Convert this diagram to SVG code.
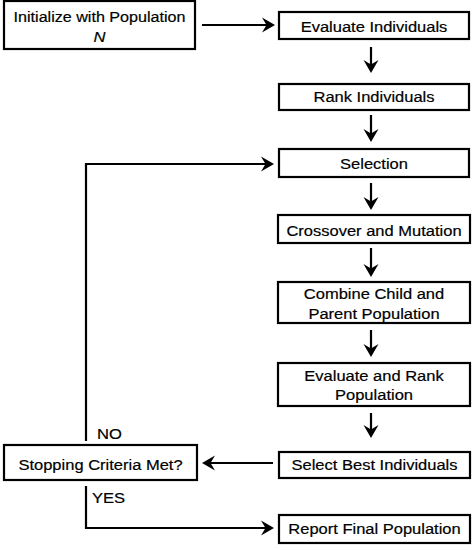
<svg xmlns="http://www.w3.org/2000/svg" width="474" height="550" viewBox="0 0 474 550">
<style>
.box{fill:#fff;stroke:#000;stroke-width:2.2}
.t{font-family:"Liberation Sans",Arial,sans-serif;font-size:15.5px;fill:#000;stroke:#000;stroke-width:0.2;text-anchor:middle}
.l{font-family:"Liberation Sans",Arial,sans-serif;font-size:15.5px;fill:#000;stroke:#000;stroke-width:0.2}
.c{fill:none;stroke:#000;stroke-width:2.2}
</style>
<defs>
<marker id="ah" markerUnits="userSpaceOnUse" viewBox="0 -8 14 16" markerWidth="14" markerHeight="16" refX="6" refY="0" orient="auto">
<path d="M13,0 L0,-7.5 L4.5,0 L0,7.5 Z" fill="#000"/>
</marker>
</defs>
<rect width="474" height="550" fill="#fff"/>
<g id="connectors">
<line class="c" x1="202" y1="25" x2="268" y2="25" marker-end="url(#ah)"/>
<line class="c" x1="371" y1="47" x2="371" y2="66" marker-end="url(#ah)"/>
<line class="c" x1="371" y1="115" x2="371" y2="135" marker-end="url(#ah)"/>
<line class="c" x1="371" y1="183" x2="371" y2="203" marker-end="url(#ah)"/>
<line class="c" x1="371" y1="248" x2="371" y2="270" marker-end="url(#ah)"/>
<line class="c" x1="371" y1="330" x2="371" y2="350" marker-end="url(#ah)"/>
<line class="c" x1="371" y1="413" x2="371" y2="431" marker-end="url(#ah)"/>
<line class="c" x1="273" y1="463" x2="209" y2="463" marker-end="url(#ah)"/>
<polyline class="c" points="86,441 86,164 267,164" marker-end="url(#ah)"/>
<polyline class="c" points="86,486 86,528 267,528" marker-end="url(#ah)"/>
<text class="l" transform="translate(97,439) scale(1.07,1)">NO</text>
<text class="l" transform="translate(92,503) scale(1.07,1)">YES</text>
</g>
<g id="init">
<rect class="box" x="4" y="1" width="191" height="48"/>
<text class="t" transform="translate(99.5,22) scale(1.04,1)">Initialize with Population</text>
<text class="t" font-style="italic" transform="translate(99.5,41.5) scale(1.07,1)">N</text>
</g>
<g id="evaluate">
<rect class="box" x="279" y="12" width="190" height="27"/>
<text class="t" transform="translate(374,32) scale(1.065,1)">Evaluate Individuals</text>
</g>
<g id="rank">
<rect class="box" x="279" y="84" width="190" height="26"/>
<text class="t" transform="translate(374,101.5) scale(1.065,1)">Rank Individuals</text>
</g>
<g id="selection">
<rect class="box" x="279" y="149" width="190" height="28"/>
<text class="t" transform="translate(374,169) scale(1.065,1)">Selection</text>
</g>
<g id="crossover">
<rect class="box" x="278" y="215" width="192" height="28"/>
<text class="t" transform="translate(374,236) scale(1.065,1)">Crossover and Mutation</text>
</g>
<g id="combine">
<rect class="box" x="278" y="282" width="192" height="41"/>
<text class="t" transform="translate(374,299) scale(1.065,1)">Combine Child and</text>
<text class="t" transform="translate(374,318.5) scale(1.065,1)">Parent Population</text>
</g>
<g id="evalrank">
<rect class="box" x="278" y="363" width="192" height="43"/>
<text class="t" transform="translate(374,380.5) scale(1.065,1)">Evaluate and Rank</text>
<text class="t" transform="translate(374,400) scale(1.065,1)">Population</text>
</g>
<g id="selectbest">
<rect class="box" x="279" y="452" width="191" height="26"/>
<text class="t" transform="translate(374.5,470) scale(1.065,1)">Select Best Individuals</text>
</g>
<g id="stopping">
<rect class="box" x="4" y="445" width="193" height="35"/>
<text class="t" transform="translate(100.5,469.5) scale(1.065,1)">Stopping Criteria Met?</text>
</g>
<g id="report">
<rect class="box" x="279" y="515" width="191" height="28"/>
<text class="t" transform="translate(374.5,533.5) scale(1.065,1)">Report Final Population</text>
</g>
</svg>
